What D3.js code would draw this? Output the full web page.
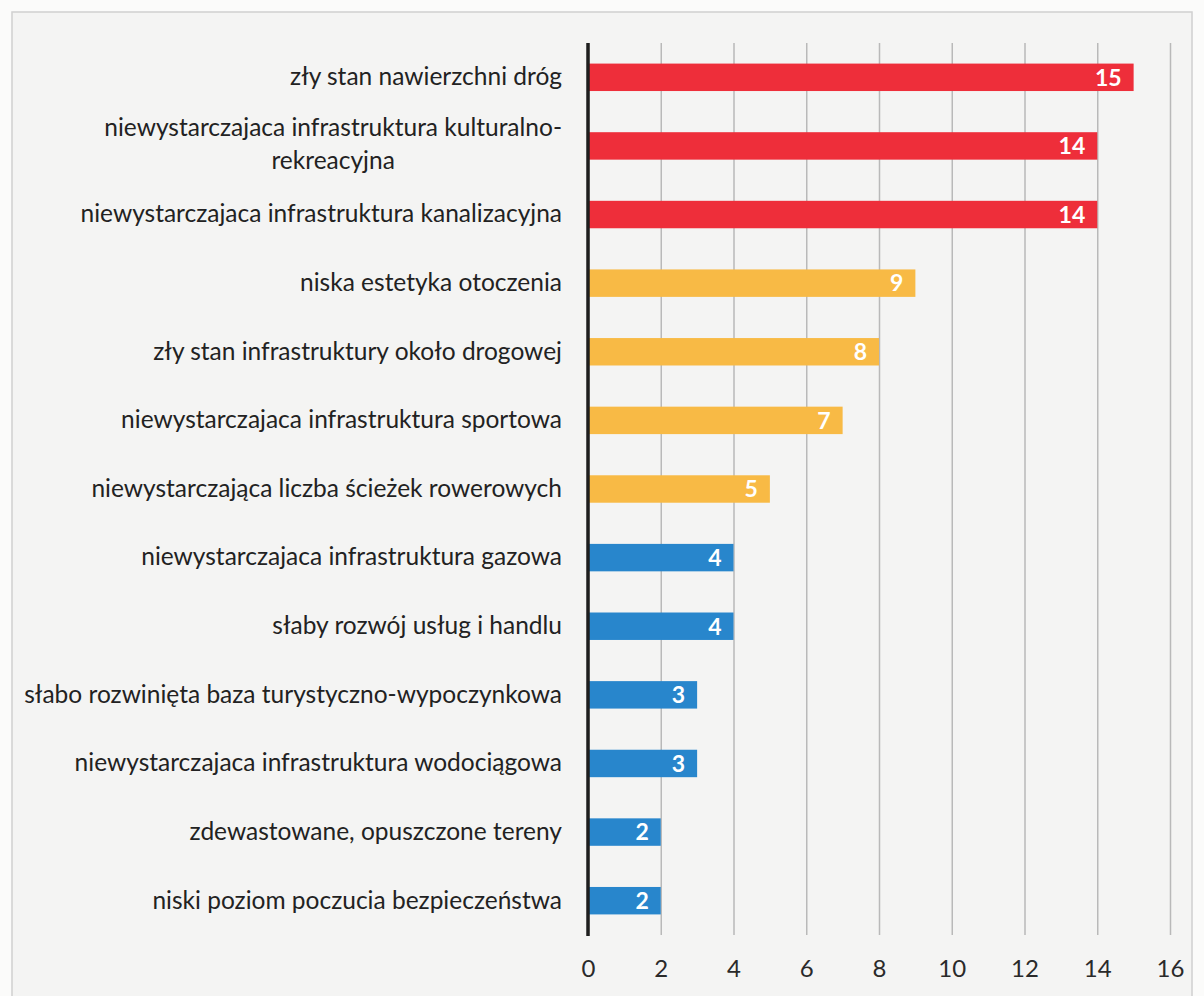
<!DOCTYPE html>
<html>
<head>
<meta charset="utf-8">
<script src="https://cdnjs.cloudflare.com/ajax/libs/d3/7.8.5/d3.min.js"></script>
<style>
	body { margin: 0; background: #fbfbfa; }
	svg { display: block; }
	svg text { font-family: Lato, "Open Sans", sans-serif; }
</style>
</head>
<body>
<svg id="chart" width="1204" height="996"></svg>
<script>
(function(){
	'use strict';

	var categories = [
		'zły stan nawierzchni dróg',
		'niewystarczajaca infrastruktura kulturalno-\nrekreacyjna',
		'niewystarczajaca infrastruktura kanalizacyjna',
		'niska estetyka otoczenia',
		'zły stan infrastruktury około drogowej',
		'niewystarczajaca infrastruktura sportowa',
		'niewystarczająca liczba ścieżek rowerowych',
		'niewystarczajaca infrastruktura gazowa',
		'słaby rozwój usług i handlu',
		'słabo rozwinięta baza turystyczno-wypoczynkowa',
		'niewystarczajaca infrastruktura wodociągowa',
		'zdewastowane, opuszczone tereny',
		'niski poziom poczucia bezpieczeństwa'
	];
	var values = [15, 14, 14, 9, 8, 7, 5, 4, 4, 3, 3, 2, 2];
	var groups = ['high', 'high', 'high', 'mid', 'mid', 'mid', 'mid', 'low', 'low', 'low', 'low', 'low', 'low'];
	var xTicks = [0, 2, 4, 6, 8, 10, 12, 14, 16];

	var data = categories.map(function(c, i){
		return { name: c, value: values[i], group: groups[i] };
	});

	var svg = d3.select('#chart');

	// scanned page background with a faint frame
	svg.append('rect')
		.attr('x', 12).attr('y', 12)
		.attr('width', 1180).attr('height', 990)
		.attr('fill', '#f4f4f3')
		.attr('stroke', '#d0d0d0')
		.attr('stroke-width', 1.5);

	var top = 43, bottom = 935, left = 588, right = 1170;

	var x = d3.scaleLinear().domain([0, 16]).range([left, right]);
	var y = d3.scaleBand()
		.domain(categories)
		.range([top, bottom])
		.paddingInner(0.6)
		.paddingOuter(0.3);
	var color = d3.scaleOrdinal()
		.domain(['high', 'mid', 'low'])
		.range(['#ee2e3a', '#f8ba45', '#2886cc']);

	// grid + bottom axis
	var xAxis = svg.append('g')
		.attr('transform', 'translate(0,' + bottom + ')')
		.call(d3.axisBottom(x).tickValues(xTicks).tickSize(-(bottom - top)).tickPadding(25));
	xAxis.select('.domain').remove();
	xAxis.selectAll('.tick line').attr('stroke', '#b9b9b9').attr('stroke-width', 1.5);
	xAxis.selectAll('.tick text')
		.attr('fill', '#2a2a2a')
		.style('font-family', 'Lato, sans-serif')
		.style('font-size', '24px');

	// bars
	svg.append('g').selectAll('rect')
		.data(data)
		.enter()
		.append('rect')
			.attr('x', x(0))
			.attr('y', (d) => y(d.name))
			.attr('width', (d) => x(d.value) - x(0))
			.attr('height', y.bandwidth())
			.attr('fill', (d) => color(d.group));

	// value labels
	svg.append('g').selectAll('text')
		.data(data)
		.enter()
		.append('text')
			.attr('x', (d) => x(d.value) - 12)
			.attr('y', (d) => y(d.name) + y.bandwidth() / 2)
			.attr('dy', '0.36em')
			.attr('text-anchor', 'end')
			.attr('fill', '#ffffff')
			.style('font-size', '23px')
			.style('font-weight', 700)
			.text((d) => d.value);

	// category labels (axis on the left)
	var yAxis = svg.append('g')
		.attr('transform', 'translate(' + left + ',0)')
		.call(d3.axisLeft(y).tickSize(0).tickPadding(26));
	yAxis.select('.domain').remove();
	yAxis.selectAll('.tick text')
		.attr('fill', '#222')
		.style('font-family', 'Lato, sans-serif')
		.style('font-size', '24.5px')
		.each(function(d){
			var lines = d.split('\n');
			if (lines.length < 2) return;
			var t = d3.select(this).text(null);
			t.append('tspan').attr('x', -26).attr('dy', '-0.4em').text(lines[0]);
			var w = t.select('tspan').node().getComputedTextLength();
			t.append('tspan')
				.attr('x', -26 - w / 2)
				.attr('dy', '1.35em')
				.attr('text-anchor', 'middle')
				.text(lines[1]);
		});

	// vertical axis line
	svg.append('line')
		.attr('x1', x(0)).attr('x2', x(0))
		.attr('y1', top).attr('y2', bottom + 1)
		.attr('stroke', '#1e1e1e')
		.attr('stroke-width', 3.5);

})();
</script>
</body>
</html>
